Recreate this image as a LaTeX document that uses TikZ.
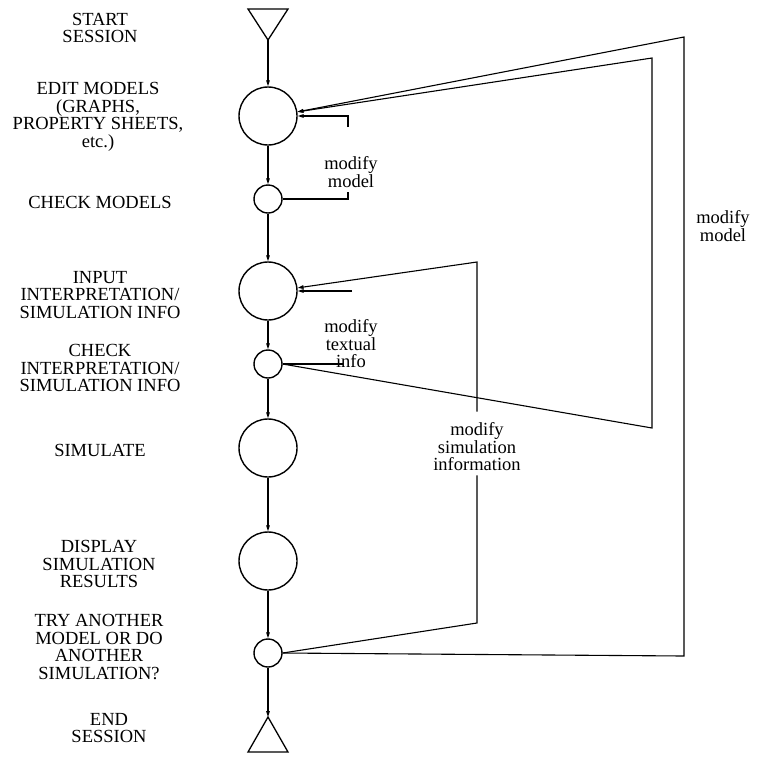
\documentclass[tikz,border=0pt]{standalone}
\usepackage{fontspec}
\setmainfont{Liberation Serif}
\usetikzlibrary{arrows.meta}

\tikzset{
  bigstate/.style={circle, draw, line width=1.4pt, minimum size=58pt, inner sep=0pt},
  smallstate/.style={circle, draw, line width=1.4pt, minimum size=28pt, inner sep=0pt},
  steplabel/.style={align=center, inner ysep=4pt, font=\fontsize{18.5}{17.5}\selectfont},
  flow/.style={-{Triangle[length=6pt,width=3.5pt]}, line width=1.1pt},
  loopline/.style={line width=1.1pt},
}

\begin{document}
\begin{tikzpicture}[x=1pt,y=-1pt]
    \useasboundingbox (0,0) rectangle (760,756);

    % start and end markers
    \coordinate (startpt) at (268,40);
    \draw[line width=1.3pt] (startpt) -- ++(-20,-31) -- ++(40,0) -- cycle;
    \coordinate (endpt) at (268,717);
    \draw[line width=1.3pt] (endpt) -- ++(-20,35) -- ++(40,0) -- cycle;

    % states
    \node[bigstate] (edit) at (268,116) {};
    \node[smallstate] (chkmod) at (268,199) {};
    \node[bigstate] (input) at (268,291) {};
    \node[smallstate] (chkint) at (268,364) {};
    \node[bigstate] (simul) at (268,448) {};
    \node[bigstate] (disp) at (268,561) {};
    \node[smallstate] (again) at (268,653) {};

    \foreach \a/\b in {startpt/edit, edit/chkmod, chkmod/input, input/chkint,
                       chkint/simul, simul/disp, disp/again, again/endpt}
        \draw[flow] (\a) -- (\b);

    % step names
    \node[steplabel] (lstart) at (100,28) {START\\SESSION};
    \node[steplabel] (ledit) at (98,117) {EDIT MODELS\\(GRAPHS,\\PROPERTY SHEETS,\\etc.)};
    \node[steplabel] (lchkmod) at (100,202) {CHECK MODELS};
    \node[steplabel] (linput) at (100,295) {INPUT\\INTERPRETATION/\\SIMULATION INFO};
    \node[steplabel] (lchkint) at (100,368) {CHECK\\INTERPRETATION/\\SIMULATION INFO};
    \node[steplabel] (lsimul) at (100,450) {SIMULATE};
    \node[steplabel] (ldisp) at (99,564) {DISPLAY\\SIMULATION\\RESULTS};
    \node[steplabel] (lagain) at (99,647) {TRY ANOTHER\\MODEL OR DO\\ANOTHER\\SIMULATION?};
    \node[steplabel] (lend) at (109,728) {END\\SESSION};

    % modify model (short loop)
    \coordinate (mmlow) at (348,192);
    \coordinate (mmhigh) at (348,127);
    \draw[loopline] (chkmod.east) -| (mmlow);
    \draw[flow] (mmhigh) |- (edit.east);
    \node[steplabel] (lmodmod) at (351,172) {modify\\model};

    % modify textual info
    \coordinate (mtend) at (343,364);
    \coordinate (mtstub) at (352,291);
    \draw[loopline] (chkint.east) -- (mtend);
    \draw[flow] (mtstub) -- (input.east);
    \node[steplabel] (lmodtxt) at (351,344) {modify\\textual\\info};

    % modify simulation information
    \coordinate (siB) at (477,623);
    \coordinate (siT) at (477,262);
    \node[steplabel] (lmodsim) at (477,447) {modify\\simulation\\information};
    \draw[loopline] (again.east) -- (siB) -- (lmodsim.south);
    \draw[flow, shorten <=7pt] (lmodsim.north) -- (siT) -- (input.6);

    % long loops back to editing
    \coordinate (mmB) at (652,428);
    \coordinate (mmT) at (652,58);
    \draw[flow] (chkint.east) -- (mmB) -- (mmT) -- (edit.8);
    \coordinate (omB) at (684,656);
    \coordinate (omT) at (684,37);
    \draw[flow] (again.east) -- (omB) -- (omT) -- (edit.8);
    \node[steplabel] (lmodright) at (723,226) {modify\\model};
\end{tikzpicture}
\end{document}
